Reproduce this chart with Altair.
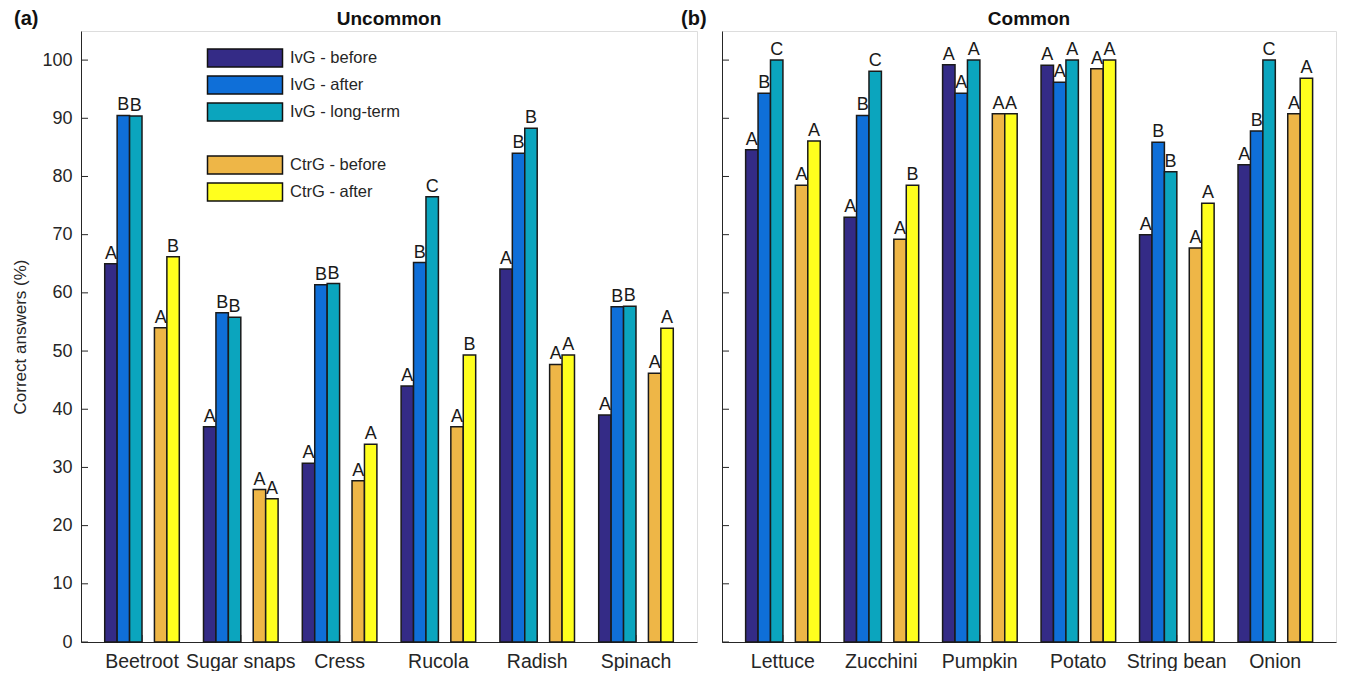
import altair as alt
import pandas as pd

FONT = "Liberation Sans"
DARK = "#262626"

# slots inside each category group (the "gap" slot stays empty)
series = ["IvG - before", "IvG - after", "IvG - long-term", "gap", "CtrG - before", "CtrG - after"]
ivg_series = ["IvG - before", "IvG - after", "IvG - long-term"]
ctr_series = ["CtrG - before", "CtrG - after"]
ivg_colors = ["#342b86", "#0f6fd8", "#0ba5be"]
ctr_colors = ["#eeb647", "#ffff1e"]

y_ticks = [0, 10, 20, 30, 40, 50, 60, 70, 80, 90, 100]

# ---- panel (a): Uncommon ----
cats_a = ["Beetroot", "Sugar snaps", "Cress", "Rucola", "Radish", "Spinach"]
a_ivg_before = [65.0, 37.0, 30.7, 44.0, 64.1, 39.0]
a_ivg_after = [90.5, 56.6, 61.4, 65.2, 84.0, 57.6]
a_ivg_long = [90.4, 55.8, 61.6, 76.5, 88.3, 57.7]
a_ctr_before = [54.0, 26.2, 27.7, 37.0, 47.7, 46.2]
a_ctr_after = [66.2, 24.6, 34.0, 49.3, 49.3, 53.9]
a_let_ivg_before = ["A", "A", "A", "A", "A", "A"]
a_let_ivg_after = ["B", "B", "B", "B", "B", "B"]
a_let_ivg_long = ["B", "B", "B", "C", "B", "B"]
a_let_ctr_before = ["A", "A", "A", "A", "A", "A"]
a_let_ctr_after = ["B", "A", "A", "B", "A", "A"]

# ---- panel (b): Common ----
cats_b = ["Lettuce", "Zucchini", "Pumpkin", "Potato", "String bean", "Onion"]
b_ivg_before = [84.6, 73.0, 99.2, 99.1, 70.0, 82.0]
b_ivg_after = [94.3, 90.5, 94.3, 96.2, 85.9, 87.8]
b_ivg_long = [100.0, 98.1, 100.0, 100.0, 80.8, 100.0]
b_ctr_before = [78.5, 69.2, 90.8, 98.5, 67.7, 90.8]
b_ctr_after = [86.1, 78.5, 90.8, 100.0, 75.4, 96.9]
b_let_ivg_before = ["A", "A", "A", "A", "A", "A"]
b_let_ivg_after = ["B", "B", "A", "A", "B", "B"]
b_let_ivg_long = ["C", "C", "A", "A", "B", "C"]
b_let_ctr_before = ["A", "A", "A", "A", "A", "A"]
b_let_ctr_after = ["A", "B", "A", "A", "A", "A"]


def build_df(cats, vals, lets):
    rows = []
    for s, v_list, l_list in zip(
        ["IvG - before", "IvG - after", "IvG - long-term", "CtrG - before", "CtrG - after"], vals, lets
    ):
        for c, v, l in zip(cats, v_list, l_list):
            rows.append({"cat": c, "series": s, "value": v, "letter": l,
                         "group": "IvG" if s.startswith("IvG") else "CtrG"})
    return pd.DataFrame(rows)


df_a = build_df(cats_a,
                [a_ivg_before, a_ivg_after, a_ivg_long, a_ctr_before, a_ctr_after],
                [a_let_ivg_before, a_let_ivg_after, a_let_ivg_long, a_let_ctr_before, a_let_ctr_after])
df_b = build_df(cats_b,
                [b_ivg_before, b_ivg_after, b_ivg_long, b_ctr_before, b_ctr_after],
                [b_let_ivg_before, b_let_ivg_after, b_let_ivg_long, b_let_ctr_before, b_let_ctr_after])

H = 611
# wide rectangle symbol (75 x 18 px at symbolSize 324)
SYM = "M-4.1667,-1H4.1667V1H-4.1667Z"


def make_panel(df, cats, title, tag, first, W):
    x = alt.X("cat:N", sort=cats,
              scale=alt.Scale(paddingInner=0.245, paddingOuter=0.24),
              axis=alt.Axis(title=None, labelAngle=0, labelAlign="center", labelBaseline="top",
                            ticks=False, labelFontSize=19.5,
                            labelPadding=10, labelColor=DARK, domainColor=DARK,
                            domainWidth=1, labelFont=FONT))
    xo = alt.XOffset("series:N", sort=series,
                     scale=alt.Scale(domain=series, paddingInner=0, paddingOuter=0))
    y = alt.Y("value:Q", scale=alt.Scale(domain=[0, 105], nice=False, zero=True),
              axis=alt.Axis(values=y_ticks, ticks=False, labels=first, grid=False,
                            title="Correct answers (%)" if first else None,
                            labelFontSize=18, labelPadding=9, labelColor=DARK,
                            titleFontSize=17, titleFontWeight="normal", titleColor=DARK,
                            titlePadding=12, domainColor=DARK, domainWidth=1,
                            labelFont=FONT, titleFont=FONT))

    def legend(ypos):
        if not first:
            return None
        return alt.Legend(orient="none", legendX=154, legendY=ypos, title=None,
                          symbolType=SYM, symbolSize=324, labelFontSize=16.5,
                          labelFont=FONT, labelColor=DARK, symbolStrokeColor="#111111",
                          symbolStrokeWidth=1.5, symbolOpacity=1, labelOffset=35,
                          rowPadding=3, padding=0)

    ivg = alt.Chart(df).transform_filter(alt.datum.group == "IvG").mark_bar(
        stroke="#1a1a1a", strokeWidth=1.5).encode(
        x=x, xOffset=xo, y=y,
        fill=alt.Fill("series:N", sort=ivg_series,
                      scale=alt.Scale(domain=ivg_series, range=ivg_colors),
                      legend=legend(17)))
    ctr = alt.Chart(df).transform_filter(alt.datum.group == "CtrG").mark_bar(
        stroke="#1a1a1a", strokeWidth=1.5).encode(
        x=x, xOffset=xo, y=y,
        fill=alt.Fill("series:N", sort=ctr_series,
                      scale=alt.Scale(domain=ctr_series, range=ctr_colors),
                      legend=legend(124)))
    letters = alt.Chart(df).mark_text(fontSize=18, font=FONT, color="#1a1a1a",
                                      baseline="bottom", dy=-1).encode(
        x=x, xOffset=xo, y=y, text="letter:N")

    ytick_df = pd.DataFrame({"t": y_ticks})
    yticks = alt.Chart(ytick_df).mark_rule(color=DARK, strokeWidth=1).encode(
        y=alt.Y("t:Q"), x=alt.value(0), x2=alt.value(7))
    xtick_df = pd.DataFrame({"cat": cats})
    xticks = alt.Chart(xtick_df).mark_rule(color=DARK, strokeWidth=1).encode(
        x=alt.X("cat:N", sort=cats, bandPosition=0.5), y=alt.value(H - 7), y2=alt.value(H))

    tag_df = pd.DataFrame({"tag": [tag]})
    tag_mark = alt.Chart(tag_df).mark_text(fontSize=20, fontWeight="bold", font=FONT,
                                           color="#111111", align="left",
                                           baseline="middle").encode(
        x=alt.value(-67 if first else -41), y=alt.value(-12), text="tag:N")
    title_df = pd.DataFrame({"title": [title]})
    title_mark = alt.Chart(title_df).mark_text(fontSize=19, fontWeight="bold", font=FONT,
                                               color="#111111", align="center",
                                               baseline="middle").encode(
        x=alt.value(W / 2), y=alt.value(-12), text="title:N")

    return alt.layer(xticks, ivg, ctr, letters, yticks, tag_mark, title_mark).resolve_scale(
        fill="independent").properties(width=W, height=H)


panel_a = make_panel(df_a, cats_a, "Uncommon", "(a)", True, 616)
panel_b = make_panel(df_b, cats_b, "Common", "(b)", False, 614)

chart = alt.hconcat(panel_a, panel_b, spacing=25, bounds="flush").properties(
    padding={"left": 3, "top": 0, "right": 0, "bottom": 0}
).configure_view(stroke=None).configure(font=FONT)

chart.save("out.html", embed_options={"renderer": "svg", "actions": False})
